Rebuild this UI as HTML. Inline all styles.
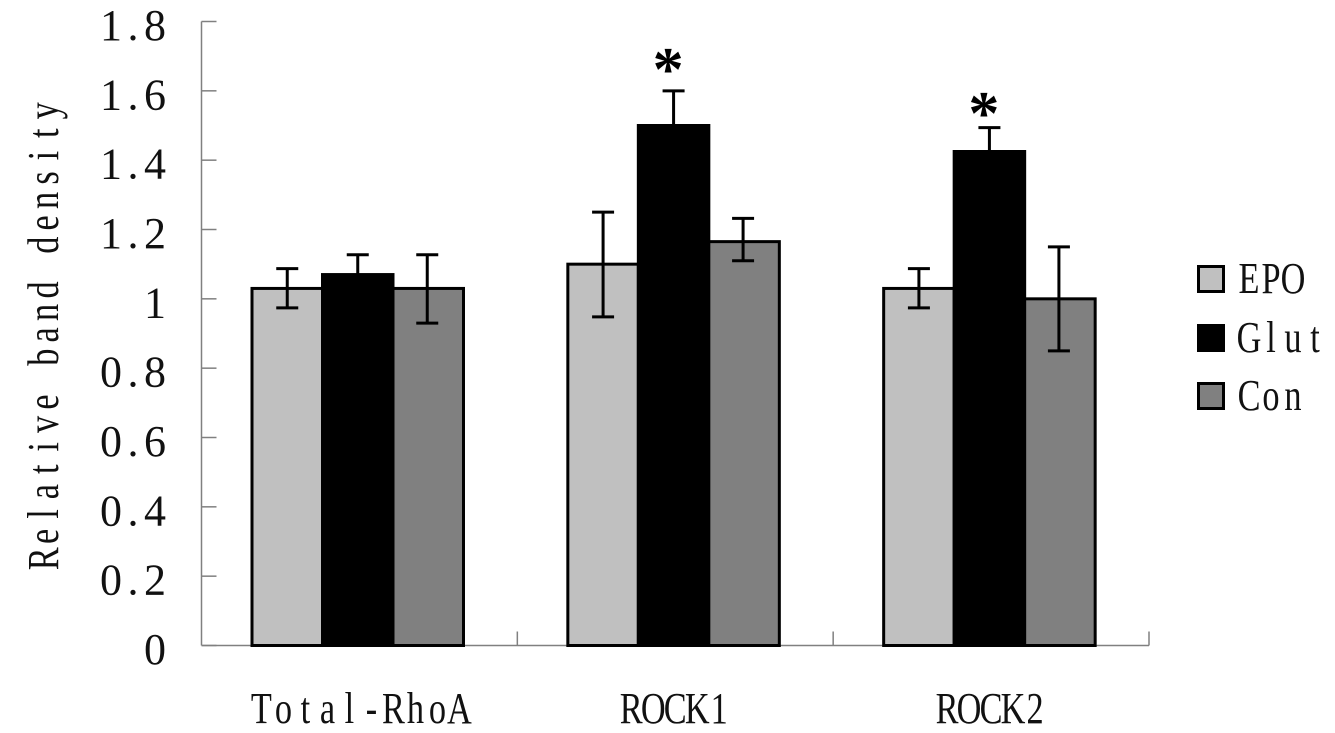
<!DOCTYPE html>
<html lang="en">
<head>
<meta charset="utf-8">
<title>Relative band density chart</title>
<style>
html,body{margin:0;padding:0;background:#fff;width:1335px;height:733px;overflow:hidden}
svg{display:block}
text{font-family:"Liberation Serif",serif;fill:#111}
</style>
</head>
<body>
<svg id="chart" width="1335" height="733" viewBox="0 0 1335 733" xmlns="http://www.w3.org/2000/svg"></svg>
<script>
const categories = ['Total-RhoA', 'ROCK1', 'ROCK2'];
const seriesNames = ['EPO', 'Glut', 'Con'];
const epoValues = [1.03, 1.10, 1.03];
const glutValues = [1.07, 1.50, 1.425];
const conValues = [1.03, 1.165, 1.00];
const epoHigh = [1.087, 1.25, 1.087];
const epoLow = [0.974, 0.948, 0.974];
const glutHigh = [1.127, 1.60, 1.494];
const glutLow = [1.013, 1.40, 1.366];
const conHigh = [1.127, 1.232, 1.15];
const conLow = [0.93, 1.11, 0.85];
const yTicks = [0, 0.2, 0.4, 0.6, 0.8, 1, 1.2, 1.4, 1.6, 1.8];
const yTickLabels = ['0', '0.2', '0.4', '0.6', '0.8', '1', '1.2', '1.4', '1.6', '1.8'];
const glutStarLevels = [null, 1.683, 1.556];

const NS = 'http://www.w3.org/2000/svg';
const svg = document.getElementById('chart');
const colors = ['#c0c0c0', '#000000', '#808080'];
const values = [epoValues, glutValues, conValues];
const highs = [epoHigh, glutHigh, conHigh];
const lows = [epoLow, glutLow, conLow];

const plotLeft = 201.5, plotBottom = 645.5, plotRight = 1149, plotTop = 21.5, yMax = 1.8;
const catWidth = (plotRight - plotLeft) / categories.length;
const barWidth = 70.5, groupOffset = 50.5;
const CHAR = 22;

function yPos(v) { return plotBottom - (v / yMax) * (plotBottom - plotTop); }
function catX(c) { return plotLeft + c * catWidth; }
function barX(c, s) { return catX(c) + groupOffset + s * barWidth; }

function make(tag, attrs) {
  const el = document.createElementNS(NS, tag);
  for (const k in attrs) el.setAttribute(k, attrs[k]);
  svg.appendChild(el);
  return el;
}
function line(x1, y1, x2, y2, stroke, w) {
  return make('line', { x1: x1, y1: y1, x2: x2, y2: y2, stroke: stroke, 'stroke-width': w });
}
/* monospaced text: every glyph sits in its own fixed-width cell */
function mono(str, startX, baseline, sx) {
  const t = make('text', { 'font-size': 44, 'text-anchor': 'middle' });
  const xs = [];
  for (let i = 0; i < str.length; i++) xs.push(((startX + (i + 0.5) * CHAR) / sx).toFixed(1));
  t.setAttribute('x', xs.join(' '));
  t.setAttribute('y', baseline);
  t.setAttribute('transform', 'scale(' + sx + ' 1)');
  t.textContent = str;
  return t;
}

/* axes */
const yAxis = line(plotLeft, plotTop, plotLeft, plotBottom, '#808080', 1.5);


const xAxis = line(plotLeft, plotBottom, plotRight, plotBottom, '#808080', 1.5);



yTicks.forEach(function (v, i) {
  const tick = line(plotLeft, yPos(v), plotLeft + 15, yPos(v), '#808080', 1.5);
  
  
  const label = yTickLabels[i];
  const lab = mono(label, 166 - label.length * CHAR, yPos(v) + 18.5, 1);
  
  
});

for (let c = 1; c <= categories.length; c++) {
  const tick = line(catX(c), plotBottom, catX(c), plotBottom - 14, '#808080', 1.5);
  
  
}

/* bars */
categories.forEach(function (cat, c) {
  seriesNames.forEach(function (name, s) {
    const r = make('rect', {
      x: barX(c, s), y: yPos(values[s][c]), width: barWidth,
      height: plotBottom - yPos(values[s][c]),
      fill: colors[s], stroke: '#000', 'stroke-width': 3
    });
    
    
  });
});

/* error bars and significance marks */
categories.forEach(function (cat, c) {
  seriesNames.forEach(function (name, s) {
    const cx = barX(c, s) + barWidth / 2 - (s === 2 ? 1 : 0);
    const stem = line(cx, yPos(highs[s][c]), cx, yPos(lows[s][c]), '#000', 3);
    
    
    const capTop = line(cx - 11, yPos(highs[s][c]), cx + 11, yPos(highs[s][c]), '#000', 3);
    
    
    const capBot = line(cx - 11, yPos(lows[s][c]), cx + 11, yPos(lows[s][c]), '#000', 3);
    
    
  });
  if (glutStarLevels[c] !== null) {
    const star = make('text', {
      x: barX(c, 1) + barWidth / 2 - 5.5, y: yPos(glutStarLevels[c]) + 28,
      'font-size': 62, 'font-weight': 'bold', 'text-anchor': 'middle'
    });
    star.style.fill = '#000';
    star.textContent = '*';
    
    
  }
  const lab = mono(cat, catX(c) + catWidth / 2 - cat.length * CHAR / 2 + (c === 0 ? 1 : 0), 723, 0.78);
  
  
});

/* y axis title */
(function () {
  const title = 'Relative band density';
  const t = make('text', { 'font-size': 44, 'text-anchor': 'middle' });
  const sx = 0.78, step = 22.4;
  const xs = [];
  for (let i = 0; i < title.length; i++) xs.push(((i + 0.5) * step / sx).toFixed(1));
  t.setAttribute('x', xs.join(' '));
  t.setAttribute('y', 0);
  t.setAttribute('transform', 'translate(58 570) rotate(-90) scale(' + sx + ' 1)');
  t.textContent = title;
  
  
})();

/* legend */
const legendBaselines = [293, 352, 410];
seriesNames.forEach(function (name, s) {
  const sw = make('rect', {
    x: 1198.5, y: legendBaselines[s] - 26.5, width: 25, height: 25,
    fill: colors[s], stroke: '#000', 'stroke-width': 3
  });
  
  
  const lab = mono(name, 1238, legendBaselines[s], 0.78);
  
  
});
</script>
</body>
</html>
